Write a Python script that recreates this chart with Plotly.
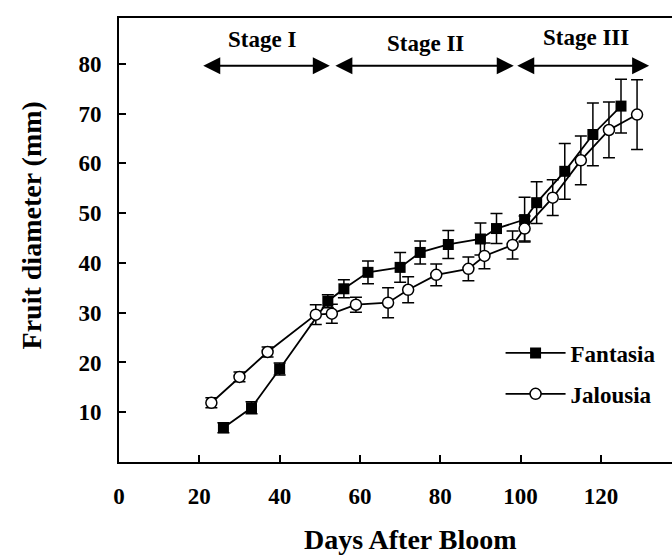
import plotly.graph_objects as go

# Fantasia (filled squares)
fantasia_days = [26, 33, 40, 52, 56, 62, 70, 75, 82, 90, 94, 101, 104, 111, 118, 125]
fantasia_diam = [6.9, 10.9, 18.7, 32.3, 34.8, 38.1, 39.1, 42.1, 43.7, 44.8, 46.9, 48.7, 52.1, 58.4, 65.8, 71.5]
fantasia_err = [1.0, 1.2, 1.2, 1.3, 1.8, 2.3, 3.0, 2.3, 2.8, 3.2, 3.0, 4.5, 4.2, 5.6, 6.3, 5.4]

# Jalousia (open circles)
jalousia_days = [23, 30, 37, 49, 53, 59, 67, 72, 79, 87, 91, 98, 101, 108, 115, 122, 129]
jalousia_diam = [11.9, 17.1, 22.1, 29.6, 29.8, 31.6, 32.0, 34.6, 37.6, 38.8, 41.4, 43.6, 46.9, 53.1, 60.6, 66.7, 69.8]
jalousia_err = [1.0, 1.0, 1.0, 2.0, 1.9, 1.5, 3.0, 2.6, 2.2, 2.4, 2.6, 2.8, 2.5, 3.6, 4.9, 5.6, 7.0]

# growth stages: (label, start day, end day, label day)
stages = [("Stage I", 20.6, 52.5, 35.6), ("Stage II", 53.5, 98.3, 76.2), ("Stage III", 98.8, 132, 116.3)]
stage_arrow_y = 79.6
stage_label_y = [84.8, 84.0, 85.2]

x_ticks = [0, 20, 40, 60, 80, 100, 120]
y_ticks = [10, 20, 30, 40, 50, 60, 70, 80]

FONT = "Liberation Serif"

fig = go.Figure()

fig.add_trace(go.Scatter(
    x=fantasia_days, y=fantasia_diam, name="Fantasia", legendgroup="f",
    mode="lines+markers",
    line=dict(color="black", width=1.8),
    marker=dict(symbol="square", size=11, color="black"),
    error_y=dict(type="data", array=fantasia_err, color="black", thickness=1.5, width=6),
))
fig.add_trace(go.Scatter(
    x=jalousia_days, y=jalousia_diam, name="Jalousia", legendgroup="j",
    mode="lines+markers",
    line=dict(color="black", width=1.8),
    marker=dict(symbol="circle", size=11, color="white", line=dict(color="black", width=1.5)),
    error_y=dict(type="data", array=jalousia_err, color="black", thickness=1.5, width=6),
))

annotations = []
for (label, start, end, mid), ly in zip(stages, stage_label_y):
    annotations.append(dict(
        x=end, y=stage_arrow_y, ax=start, ay=stage_arrow_y,
        xref="x", yref="y", axref="x", ayref="y",
        text="", showarrow=True, arrowhead=2, startarrowhead=2,
        arrowside="end+start", arrowwidth=2, arrowsize=1.7, startarrowsize=1.7,
        arrowcolor="black", standoff=0, startstandoff=0,
    ))
    annotations.append(dict(
        x=mid, y=ly, xref="x", yref="y", text=label, showarrow=False,
        font=dict(family=FONT, size=23, color="black", weight="bold"),
    ))

# axis titles
annotations.append(dict(
    x=0.528, y=-0.2135, xref="paper", yref="paper", text="Days After Bloom",
    showarrow=False, yanchor="bottom",
    font=dict(family=FONT, size=28, color="black", weight="bold"),
))
annotations.append(dict(
    x=-0.159, y=0.533, xref="paper", yref="paper", text="Fruit diameter (mm)",
    showarrow=False, textangle=-90, xanchor="center", yanchor="middle",
    font=dict(family=FONT, size=28, color="black", weight="bold"),
))

fig.update_layout(
    width=672, height=558,
    margin=dict(l=119, r=0, t=18, b=96),
    plot_bgcolor="white", paper_bgcolor="white",
    font=dict(family=FONT, color="black"),
    annotations=annotations,
    showlegend=True,
    legend=dict(
        x=0.69, y=0.294, xanchor="left", yanchor="top",
        bgcolor="rgba(0,0,0,0)",
        font=dict(family=FONT, size=23, color="black", weight="bold"),
        itemwidth=60,
        tracegroupgap=8,
    ),
)

fig.update_xaxes(
    range=[0, 137.7], tickvals=x_ticks,
    showgrid=False, zeroline=False,
    showline=True, linecolor="black", linewidth=2, mirror=True,
    ticks="inside", ticklen=7, tickwidth=2, tickcolor="black",
    tickfont=dict(family=FONT, size=23, color="black", weight="bold"),
    ticklabelstandoff=12,
)
fig.update_yaxes(
    range=[0, 89.2], tickvals=y_ticks,
    showgrid=False, zeroline=False,
    showline=True, linecolor="black", linewidth=2,
    ticks="inside", ticklen=7, tickwidth=2, tickcolor="black",
    tickfont=dict(family=FONT, size=23, color="black", weight="bold"),
    ticklabelstandoff=11,
)

fig.write_html(
    "out.html",
    config={"displayModeBar": False},
    post_script="document.body.style.margin='0';document.body.style.overflow='hidden';",
)
